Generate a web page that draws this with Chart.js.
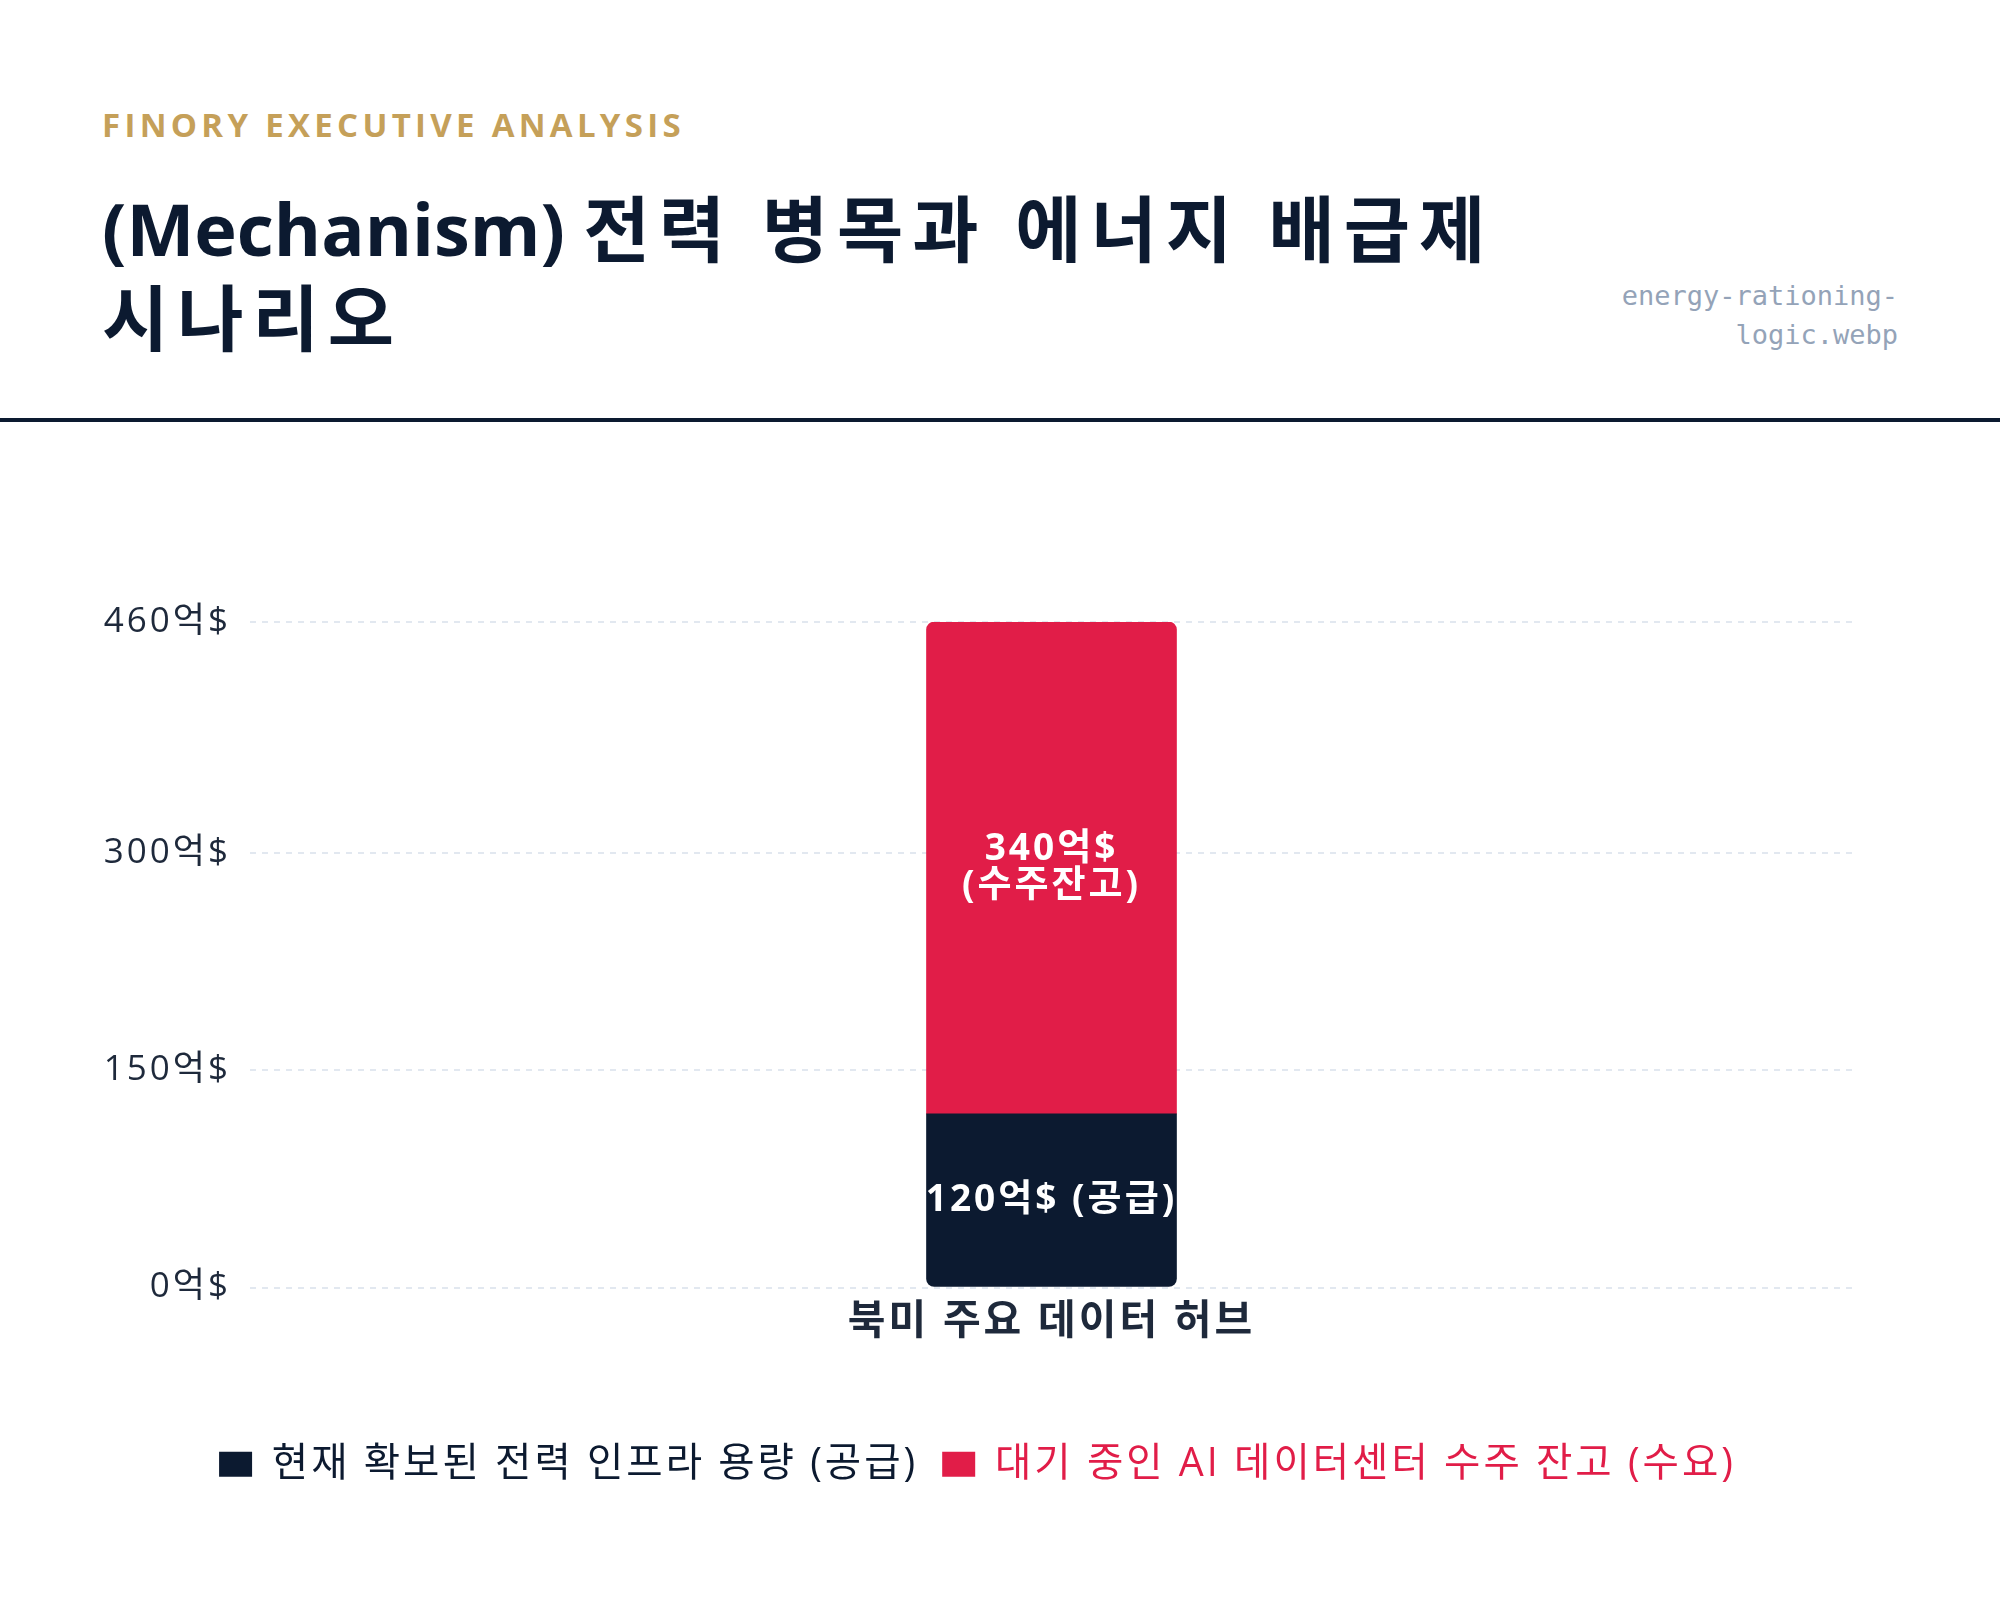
<!DOCTYPE html>
<html lang="ko">
<head>
<meta charset="utf-8">
<script src="https://cdn.jsdelivr.net/npm/chart.js@4.4.1/dist/chart.umd.min.js"></script>
<style>
  html, body { margin: 0; padding: 0; background: #ffffff; }
  body { width: 2000px; height: 1622px; position: relative; overflow: hidden;
         font-family: 'Open Sans', 'Noto Sans CJK KR', sans-serif; }
  .kicker { position: absolute; left: 102px; top: 105px; font-size: 33px; line-height: 40px;
            font-weight: 700; letter-spacing: 4.3px; color: #c5a059; }
  .title { position: absolute; left: 102px; top: 184px; font-size: 72px; line-height: 89px;
           font-weight: 700; color: #0c1a30; margin: 0; }
  .title .ko { letter-spacing: 9px; }
  .file { position: absolute; right: 102px; top: 276px; font-family: 'DejaVu Sans Mono', monospace;
          font-size: 27px; line-height: 39px; color: #94a3b8; text-align: right; }
  .rule { position: absolute; left: 0; top: 418px; width: 2000px; height: 4px; background: #0c1a30; }
  .chart-box { position: absolute; left: 102px; top: 582px; width: 1796px; height: 938px; }
</style>
</head>
<body>
<div class="kicker">FINORY EXECUTIVE ANALYSIS</div>
<h1 class="title">(Mechanism) <span class="ko">전력 병목과 에너지 배급제</span><br><span class="ko">시나리오</span></h1>
<div class="file">energy-rationing-<br>logic.webp</div>
<div class="rule"></div>
<div class="chart-box"><canvas id="c"></canvas></div>
<script>
// --- data ---
const categories = ['북미 주요 데이터 허브'];
const seriesNames = ['현재 확보된 전력 인프라 용량 (공급)', '대기 중인 AI 데이터센터 수주 잔고 (수요)'];
const supplyValues = [120];
const backlogValues = [340];
const barLabels = [['120억$ (공급)'], ['340억$', '(수주잔고)']];
const yTicks = [0, 150, 300, 460];
const tickUnit = '억$';

const NAVY = '#0c1a30';
const RED = '#e11d48';
const FONT = "'Open Sans', 'Noto Sans CJK KR', sans-serif";

// 캔버스 글자 간격 (리사이즈 때 초기화되므로 매번 다시 지정)
const spacingPlugin = {
    id: 'spacing',
    beforeUpdate(chart) { chart.ctx.letterSpacing = '3px'; },
    beforeDraw(chart) { chart.ctx.letterSpacing = '3px'; }
};

// 막대 안쪽 흰색 라벨
const barTextPlugin = {
    id: 'barText',
    afterDatasetsDraw(chart) {
        const ctx = chart.ctx;
        ctx.save();
        ctx.fillStyle = '#ffffff';
        ctx.font = `700 37px ${FONT}`;
        ctx.letterSpacing = '3px';
        ctx.textAlign = 'center';
        ctx.textBaseline = 'middle';
        chart.data.datasets.forEach((ds, di) => {
            const meta = chart.getDatasetMeta(di);
            meta.data.forEach(el => {
                const {x, y, base} = el.getProps(['x', 'y', 'base'], true);
                const lines = barLabels[di];
                const lh = 37;
                const cy = (y + base) / 2 - (lines.length - 1) * lh / 2;
                lines.forEach((t, i) => ctx.fillText(t, x, cy + i * lh));
            });
        });
        ctx.restore();
    }
};

new Chart(document.getElementById('c'), {
    type: 'bar',
    data: {
        labels: categories,
        datasets: [
            { label: seriesNames[0], data: supplyValues, backgroundColor: NAVY, barThickness: 250,
              borderSkipped: false, borderRadius: {topLeft: 0, topRight: 0, bottomLeft: 8, bottomRight: 8} },
            { label: seriesNames[1], data: backlogValues, backgroundColor: RED, barThickness: 250,
              borderSkipped: false, borderRadius: {topLeft: 8, topRight: 8, bottomLeft: 0, bottomRight: 0} }
        ]
    },
    options: {
        responsive: true, maintainAspectRatio: false, animation: false,
        layout: { padding: { top: 1, right: 45, bottom: 26, left: 0 } },
        plugins: {
            tooltip: { enabled: false },
            legend: {
                position: 'bottom',
                labels: {
                    boxWidth: 33, boxHeight: 25, padding: 24,
                    font: { family: FONT, size: 39.5 },
                    generateLabels(chart) {
                        const items = Chart.defaults.plugins.legend.labels.generateLabels(chart);
                        items.forEach((it, i) => { it.fontColor = i === 0 ? NAVY : RED; it.lineWidth = 0; });
                        return items;
                    }
                }
            }
        },
        scales: {
            x: {
                stacked: true,
                grid: { display: false },
                border: { display: false },
                ticks: { color: '#1e293b', padding: 2, font: { family: FONT, size: 41, weight: '700' } },
                afterFit(s) { s.height = 133; }
            },
            y: {
                stacked: true, min: 0, max: 460,
                grid: { color: '#e2e8f0', lineWidth: 2, drawTicks: false },
                border: { display: false, dash: [6, 6] },
                ticks: {
                    color: '#1e293b', padding: 19,
                    font: { family: FONT, size: 35, weight: '400' },
                    callback: v => v + tickUnit
                },
                afterBuildTicks(s) { s.ticks = yTicks.map(v => ({ value: v })); },
                afterFit(s) { s.width = 148; }
            }
        }
    },
    plugins: [spacingPlugin, barTextPlugin]
});
</script>
</body>
</html>
